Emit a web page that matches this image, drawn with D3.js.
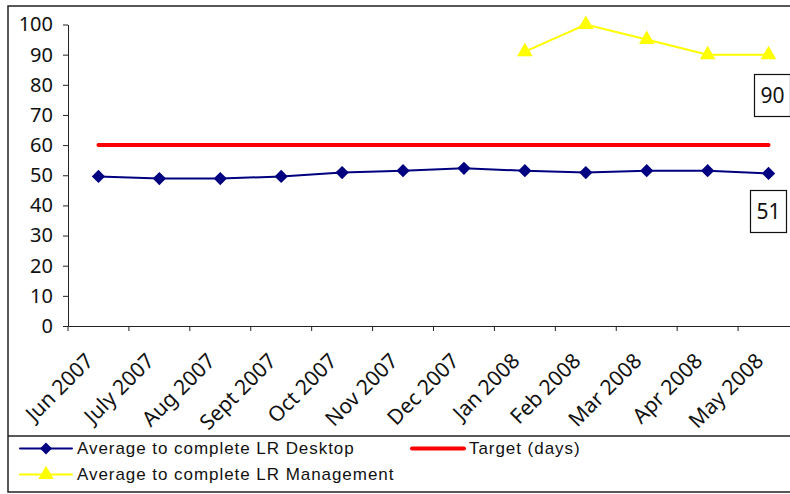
<!DOCTYPE html>
<html><head><meta charset="utf-8">
<script src="https://cdn.jsdelivr.net/npm/d3@7"></script>
<style>body{margin:0;background:#fff}svg{display:block}</style>
</head><body>
<svg id="chart" width="790" height="494"></svg>
<script>
const categories = ["Jun 2007","July 2007","Aug 2007","Sept 2007","Oct 2007","Nov 2007","Dec 2007","Jan 2008","Feb 2008","Mar 2008","Apr 2008","May 2008"];
const desktop = [49.6, 48.9, 48.9, 49.6, 50.9, 51.5, 52.3, 51.5, 50.9, 51.5, 51.5, 50.6];
const target = [60,60,60,60,60,60,60,60,60,60,60,60];
const management = [null,null,null,null,null,null,null,91,100,95,90,90];
const yTicks = [0,10,20,30,40,50,60,70,80,90,100];
const seriesNames = ["Average to complete LR Desktop","Target (days)","Average to complete LR Management"];

(function(){
const svg = d3.select("#chart");
const W = 790;
const pL = 68, pR = 799, pT = 24.5, pB = 326;

// outer frame
svg.append("rect").attr("x",8).attr("y",6).attr("width",W+10).attr("height",486)
  .attr("fill","none").attr("stroke","#222").attr("stroke-width",1.5);
svg.append("line").attr("x1",8).attr("x2",W).attr("y1",436).attr("y2",436)
  .attr("stroke","#222").attr("stroke-width",1.5);

const x = d3.scaleBand().domain(categories).range([pL,pR]);
const y = d3.scaleLinear().domain([0,100]).range([pB,pT]);
const cx = d => x(d) + x.bandwidth()/2;

// y axis
const yAxis = d3.axisLeft(y).tickValues(yTicks).tickSize(5).tickPadding(10).tickSizeOuter(0);
const ga = svg.append("g").attr("transform",`translate(${pL},0)`).call(yAxis);
ga.select(".domain").attr("stroke","#222");
ga.selectAll(".tick line").attr("stroke","#222");
ga.selectAll("text").attr("font-family","'Noto Sans', 'Open Sans', sans-serif").attr("font-size",20).attr("fill","#111");

// x axis
const xAxis = d3.axisBottom(x).tickSize(0).tickFormat("");
const gx = svg.append("g").attr("transform",`translate(0,${pB})`).call(xAxis);
gx.select(".domain").attr("stroke","#222");
gx.selectAll(".bt").data(categories).enter().append("line")
  .attr("x1",d=>x(d)).attr("x2",d=>x(d)).attr("y1",0).attr("y2",5).attr("stroke","#222");
gx.selectAll(".lab").data(categories).enter().append("text")
  .attr("transform",d=>`translate(${cx(d)-9},31) rotate(-45)`)
  .attr("text-anchor","end").attr("dy","0.35em")
  .attr("font-family","'Noto Sans', 'Open Sans', sans-serif").attr("font-size",21).attr("fill","#111")
  .text(d=>d);

const line = d3.line().defined(d=>d.v!=null).x(d=>cx(d.c)).y(d=>y(d.v));

// target line
const tData = categories.map((c,i)=>({c,v:target[i]}));
svg.append("path").attr("d",line(tData)).attr("fill","none").attr("stroke","#ff0000").attr("stroke-width",4).attr("stroke-linecap","round");

// desktop
const dData = categories.map((c,i)=>({c,v:desktop[i]}));
svg.append("path").attr("d",line(dData)).attr("fill","none").attr("stroke","#000080").attr("stroke-width",2);
svg.selectAll(".dm").data(dData).enter().append("path")
  .attr("d",d3.symbol().type(d3.symbolSquare).size(88))
  .attr("transform",d=>`translate(${cx(d.c)},${y(d.v)}) rotate(45)`)
  .attr("fill","#000080");

// management
const mData = categories.map((c,i)=>({c,v:management[i]}));
svg.append("path").attr("d",line(mData)).attr("fill","none").attr("stroke","#ffff00").attr("stroke-width",2);
svg.selectAll(".tm").data(mData.filter(d=>d.v!=null)).enter().append("path")
  .attr("transform",d=>`translate(${cx(d.c)},${y(d.v)})`)
  .attr("d",d3.symbol().type(d3.symbolTriangle).size(105))
  .attr("fill","#ffff00");

// data label boxes
function labelBox(v, bx, by, bw, bh){
  svg.append("rect").attr("x",bx).attr("y",by).attr("width",bw).attr("height",bh)
    .attr("fill","#fff").attr("stroke","#111").attr("stroke-width",1.2);
  svg.append("text").attr("x",bx+bw/2).attr("y",by+bh/2).attr("dy","0.36em")
    .attr("text-anchor","middle").attr("font-family","'Noto Sans', 'Open Sans', sans-serif")
    .attr("font-size",21).attr("fill","#111").text(Math.round(v));
}
labelBox(management[management.length-1], 754.5, 74.5, 36, 42);
labelBox(desktop[desktop.length-1], 750.5, 190.5, 36, 42);

// legend
const lg = svg.append("g").attr("font-family","'Liberation Sans', Arial, sans-serif").attr("font-size",17).attr("fill","#111");
function legendItem(i, lx, ly, color, sym, w){
  lg.append("line").attr("x1",lx).attr("x2",lx+52).attr("y1",ly).attr("y2",ly).attr("stroke",color).attr("stroke-width",w).attr("stroke-linecap","round");
  if(sym==="diamond") lg.append("path").attr("d",d3.symbol().type(d3.symbolSquare).size(72)).attr("transform",`translate(${lx+26},${ly}) rotate(45)`).attr("fill",color);
  if(sym==="triangle") lg.append("path").attr("d",d3.symbol().type(d3.symbolTriangle).size(100)).attr("transform",`translate(${lx+26},${ly})`).attr("fill",color);
  lg.append("text").attr("x",lx+57).attr("y",ly).attr("dy","0.35em").attr("letter-spacing","0.95").text(seriesNames[i]);
}
legendItem(0, 20, 448.5, "#000080", "diamond", 2);
legendItem(1, 412, 448.5, "#ff0000", null, 4);
legendItem(2, 20, 474.5, "#ffff00", "triangle", 2);
})();
</script>
</body></html>
